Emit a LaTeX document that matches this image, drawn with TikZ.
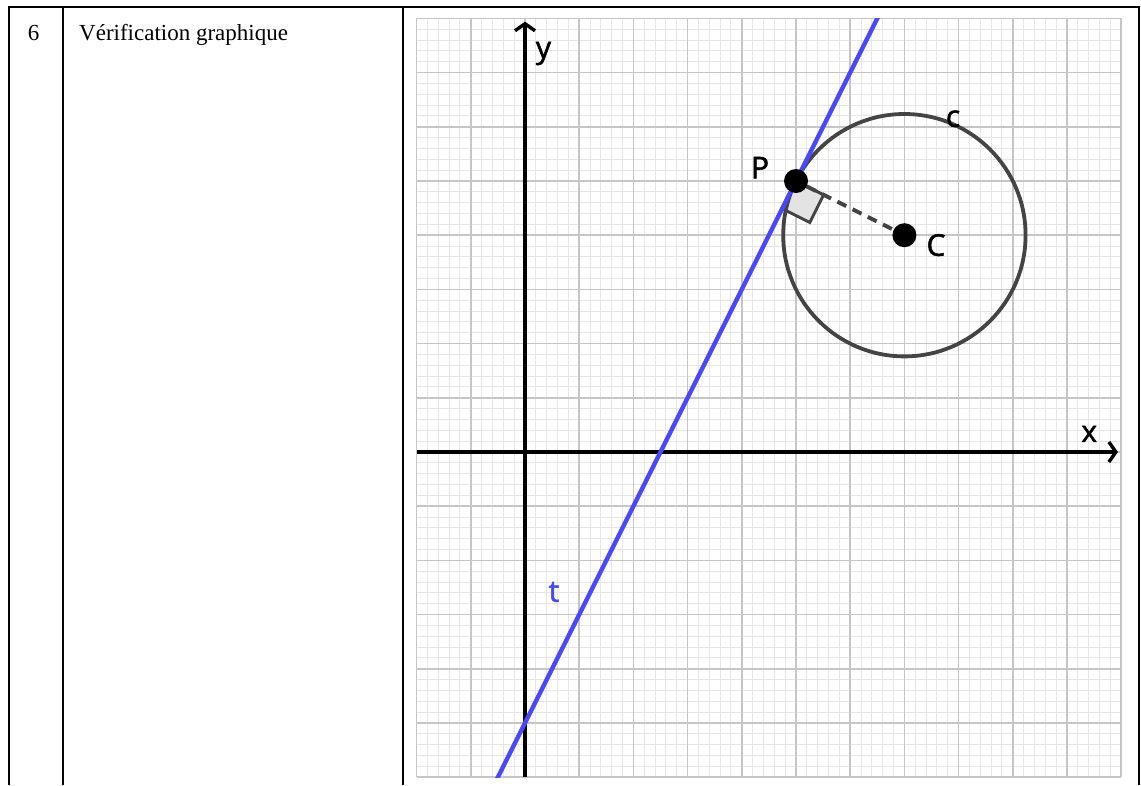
\documentclass[tikz,border=0pt]{standalone}
\usepackage{fontspec}
\setmainfont{Liberation Serif}
\newfontfamily\labelfont[FakeBold=1.6]{Open Sans}
\usetikzlibrary{arrows.meta}
\definecolor{gridmajor}{RGB}{198,198,198}
\definecolor{gridminor}{RGB}{230,230,230}
\definecolor{curvegray}{RGB}{68,68,68}
\definecolor{tblue}{RGB}{72,72,255}
\begin{document}
\begin{tikzpicture}[x=1pt,y=-1pt,
  tableline/.style={line width=2.2pt,black},
  celltext/.style={inner sep=0pt,font=\fontsize{23}{27}\selectfont},
  minorgrid/.style={gridminor,line width=1pt},
  majorgrid/.style={gridmajor,line width=1.6pt},
  axisline/.style={line width=3.4pt,black,-{Straight Barb[length=7pt,width=20pt]}},
  curve/.style={curvegray,line width=3.8pt},
  tangent/.style={tblue,line width=4.3pt},
  radiusline/.style={curvegray,line width=4pt,dash pattern=on 10pt off 7pt},
  anglemark/.style={fill=gray!22,draw=curvegray,line width=3pt,line join=miter},
  dot/.style={circle,fill=black,inner sep=0pt,minimum size=24pt},
  lbl/.style={inner sep=0pt,anchor=base,font=\labelfont\fontsize{30}{36}\selectfont}]
\useasboundingbox (0,0) rectangle (1141,785);
% table
\draw[tableline] (9,785) -- (9,7) -- (1139,7) -- (1139,785);
\draw[tableline] (63,7) -- (63,785);
\draw[tableline] (403,7) -- (403,785);
\node[celltext,anchor=base] (num) at (33.5,40) {6};
\node[celltext,anchor=base west] (title) at (79,40) {Vérification graphique};
% graph
\begin{scope}[shift={(525pt,-452pt)},x=54.2pt,y=54.2pt]
  \draw[minorgrid] (-2,-6) grid[step=0.2] (11,8);
  \draw[majorgrid] (-2,-6) grid[step=1] (11,8);
  \draw[anglemark] (5,5) -- ++(0.51,-0.255) -- ++(-0.255,-0.51) -- ++(-0.51,0.255) -- cycle;
  \draw[curve] (7,4) circle[radius=2.236];
  \coordinate (xs) at (-2,0);
  \coordinate (xe) at (10.94,0);
  \coordinate (ys) at (0,-6);
  \coordinate (ye) at (0,7.94);
  \draw[axisline] (xs) -- (xe);
  \draw[axisline] (ys) -- (ye);
  \begin{scope}
    \clip (-2,-6) rectangle (11,8);
    \coordinate (t1) at (-0.6,-6.2);
    \coordinate (t2) at (6.6,8.2);
    \draw[tangent] (t1) -- (t2);
  \end{scope}
  \node[dot] (P) at (5,5) {};
  \node[dot] (C) at (7,4) {};
  \draw[radiusline] (P) -- (C);
  \node[lbl] (ylab) at (0.341,7.27) {y};
  \node[lbl] (xlab) at (10.41,0.185) {x};
  \node[lbl] (Plab) at (4.336,5.05) {P};
  \node[lbl] (Clab) at (7.583,3.62) {C};
  \node[lbl] (clab) at (7.897,6.0) {c};
  \node[lbl,text=tblue] (tlab) at (0.535,-2.762) {t};
\end{scope}
\end{tikzpicture}
\end{document}
